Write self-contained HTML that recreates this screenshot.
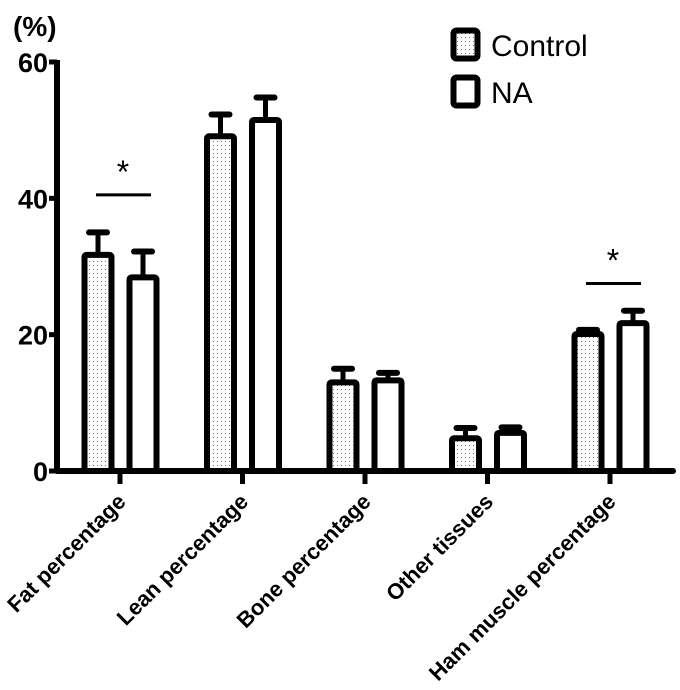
<!DOCTYPE html>
<html><head><meta charset="utf-8"><style>body{margin:0;background:#fff}svg{display:block;font-family:"Liberation Sans",Arial,sans-serif}</style></head>
<body>
<svg id="c" width="680" height="690" xmlns="http://www.w3.org/2000/svg">
<defs><pattern id="dots" width="4" height="4" patternUnits="userSpaceOnUse"><rect width="4" height="4" fill="#fff"/><rect x="1" y="1" width="1" height="1" fill="#777"/></pattern></defs>
<text x="13" y="36" font-size="28" font-weight="bold">(%)</text>
<g id="legend">
<rect x="453.5" y="30.5" width="24" height="28" rx="3" fill="url(#dots)" stroke="#000" stroke-width="6"/>
<text x="491" y="56" font-size="30">Control</text>
<rect x="453.5" y="77.5" width="24" height="28" rx="3" fill="#fff" stroke="#000" stroke-width="6"/>
<text x="491" y="103" font-size="30">NA</text>
</g>
<g id="plot"></g>
</svg>
<script>
const categories=["Fat percentage","Lean percentage","Bone percentage","Other tissues","Ham muscle percentage"];
const controlVals=[31.7,49.1,13.0,4.8,20.1];
const controlErr=[3.3,3.2,2.0,1.5,0.6];
const naVals=[28.4,51.5,13.3,5.6,21.7];
const naErr=[3.8,3.3,1.1,0.8,1.8];
const yTicks=[0,20,40,60];
const sigIdx=[0,4];
const sigLevels=[40.5,27.5];
const y0=471,y60=62,x0=57,xEnd=673,cx0=120,step=122.5;
const y=v=>y0-(v/60)*(y0-y60);
const xc=i=>cx0+i*step;
const g=document.getElementById('plot');
const NS="http://www.w3.org/2000/svg";
function el(t,a){const e=document.createElementNS(NS,t);for(const k in a)e.setAttribute(k,a[k]);g.appendChild(e);return e;}
categories.forEach((c,i)=>{
 [[controlVals,controlErr,-22,'url(#dots)','control'],[naVals,naErr,23,'#fff','na']].forEach(([v,er,off,fill,nm])=>{
  const cx=xc(i)+off,top=y(v[i]),ey=y(v[i]+er[i]);
  const l=el('line',{x1:cx,x2:cx,y1:top,y2:ey,stroke:'#000','stroke-width':5});
  
  
  const cap=el('line',{x1:cx-9,x2:cx+9,y1:ey,y2:ey,stroke:'#000','stroke-width':6,'stroke-linecap':'round'});
  
  
  const r=el('rect',{x:cx-13.5,y:top,width:27,height:y0-top,fill:fill,stroke:'#000','stroke-width':6,rx:2});
  
  
 });
 const t=el('line',{x1:xc(i),x2:xc(i),y1:y0,y2:484,stroke:'#000','stroke-width':5});
 
 
 const tx=el('text',{transform:`translate(${xc(i)+7},503) rotate(-45)`,'text-anchor':'end','font-size':22,'font-weight':'bold'});
 tx.textContent=c;
 
 
});
yTicks.forEach(v=>{
 const t=el('line',{x1:49,x2:x0,y1:y(v),y2:y(v),stroke:'#000','stroke-width':5});
 
 
 const tx=el('text',{x:48,y:y(v)+10,'text-anchor':'end','font-size':27,'font-weight':'bold'});
 tx.textContent=v;
 
 
});
const ya=el('line',{x1:x0,x2:x0,y1:y60-2,y2:y0+2,stroke:'#000','stroke-width':6});


const xa=el('line',{x1:x0,x2:xEnd,y1:y0,y2:y0,stroke:'#000','stroke-width':6,'stroke-linecap':'round'});


sigIdx.forEach((i,k)=>{
 const ly=y(sigLevels[k]);
 const l=el('line',{x1:xc(i)-24,x2:xc(i)+31,y1:ly,y2:ly,stroke:'#000','stroke-width':3});
 
 
 const s=el('text',{x:xc(i)+3,y:ly-12,'text-anchor':'middle','font-size':32});
 s.textContent='*';
 
 
});
</script>
</body></html>
